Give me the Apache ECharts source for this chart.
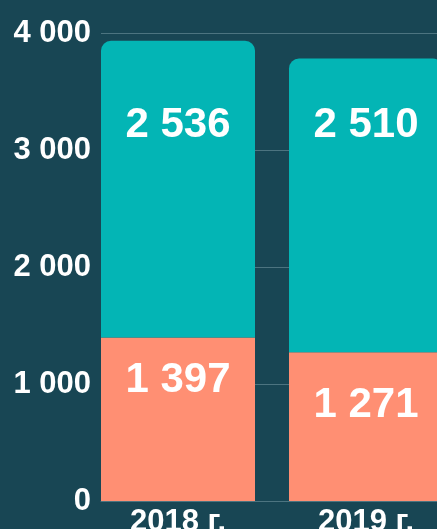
<!DOCTYPE html>
<html>
<head>
<meta charset="UTF-8">
<title></title>
<script src="https://cdn.jsdelivr.net/npm/echarts@6/dist/echarts.min.js"></script>
<style>
  html, body { margin: 0; padding: 0; background: #184654; }
  #main { width: 437px; height: 529px; }
</style>
</head>
<body>
<div id="main"></div>
<script>
// data
var categories = ['2018 г.', '2019 г.'];
var lowerValues = [1397, 1271];   // orange
var upperValues = [2536, 2510];   // teal

// label offsets from bar top (style only)
var upperLabelY = [85, 67];
var lowerLabelY = [43, 53];

function spaced(v) {
    return String(v).replace(/\B(?=(\d{3})+(?!\d))/g, ' ');
}

function items(values, offsets) {
    return values.map(function (v, i) {
        return { value: v, label: { position: ['50%', offsets[i]] } };
    });
}

var chart = echarts.init(document.getElementById('main'));

var valueLabel = {
    show: true,
    align: 'center',
    verticalAlign: 'middle',
    color: '#ffffff',
    fontFamily: 'Liberation Sans',
    fontWeight: 'bold',
    fontSize: 42,
    formatter: function (p) { return spaced(p.value); }
};

var axisFont = {
    color: '#ffffff',
    fontFamily: 'Liberation Sans',
    fontWeight: 'bold',
    fontSize: 31
};

chart.setOption({
    backgroundColor: '#184654',
    animation: false,
    grid: [
        // bars (runs past the right edge)
        { left: 84, width: 376, top: 33, bottom: 28, outerBoundsMode: 'none' },
        // y axis, grid lines, base line
        { left: 101, right: 0, top: 33, bottom: 28, outerBoundsMode: 'none' }
    ],
    xAxis: [
        {
            gridIndex: 0,
            type: 'category',
            data: categories,
            axisLine: { show: false },
            axisTick: { show: false },
            axisLabel: Object.assign({ margin: 6 }, axisFont)
        },
        {
            gridIndex: 1,
            type: 'value',
            min: 0,
            max: 1,
            axisLine: { show: true, lineStyle: { color: '#4c7480', width: 1 } },
            axisTick: { show: false },
            axisLabel: { show: false },
            splitLine: { show: false }
        }
    ],
    yAxis: [
        {
            gridIndex: 0,
            type: 'value',
            min: 0,
            max: 4000,
            show: false
        },
        {
            gridIndex: 1,
            type: 'value',
            min: 0,
            max: 4000,
            interval: 1000,
            axisLine: { show: false },
            axisTick: { show: false },
            axisLabel: Object.assign({
                margin: 10,
                formatter: function (v) { return spaced(v); }
            }, axisFont),
            splitLine: { lineStyle: { color: '#4c7480', width: 1 } }
        }
    ],
    series: [
        {
            type: 'bar',
            xAxisIndex: 0,
            yAxisIndex: 0,
            stack: 'total',
            barWidth: 154,
            itemStyle: { color: '#ff8f73' },
            label: valueLabel,
            data: items(lowerValues, lowerLabelY)
        },
        {
            type: 'bar',
            xAxisIndex: 0,
            yAxisIndex: 0,
            stack: 'total',
            barWidth: 154,
            itemStyle: { color: '#03b5b5', borderRadius: [10, 10, 0, 0] },
            label: valueLabel,
            data: items(upperValues, upperLabelY)
        }
    ]
});
</script>
</body>
</html>
